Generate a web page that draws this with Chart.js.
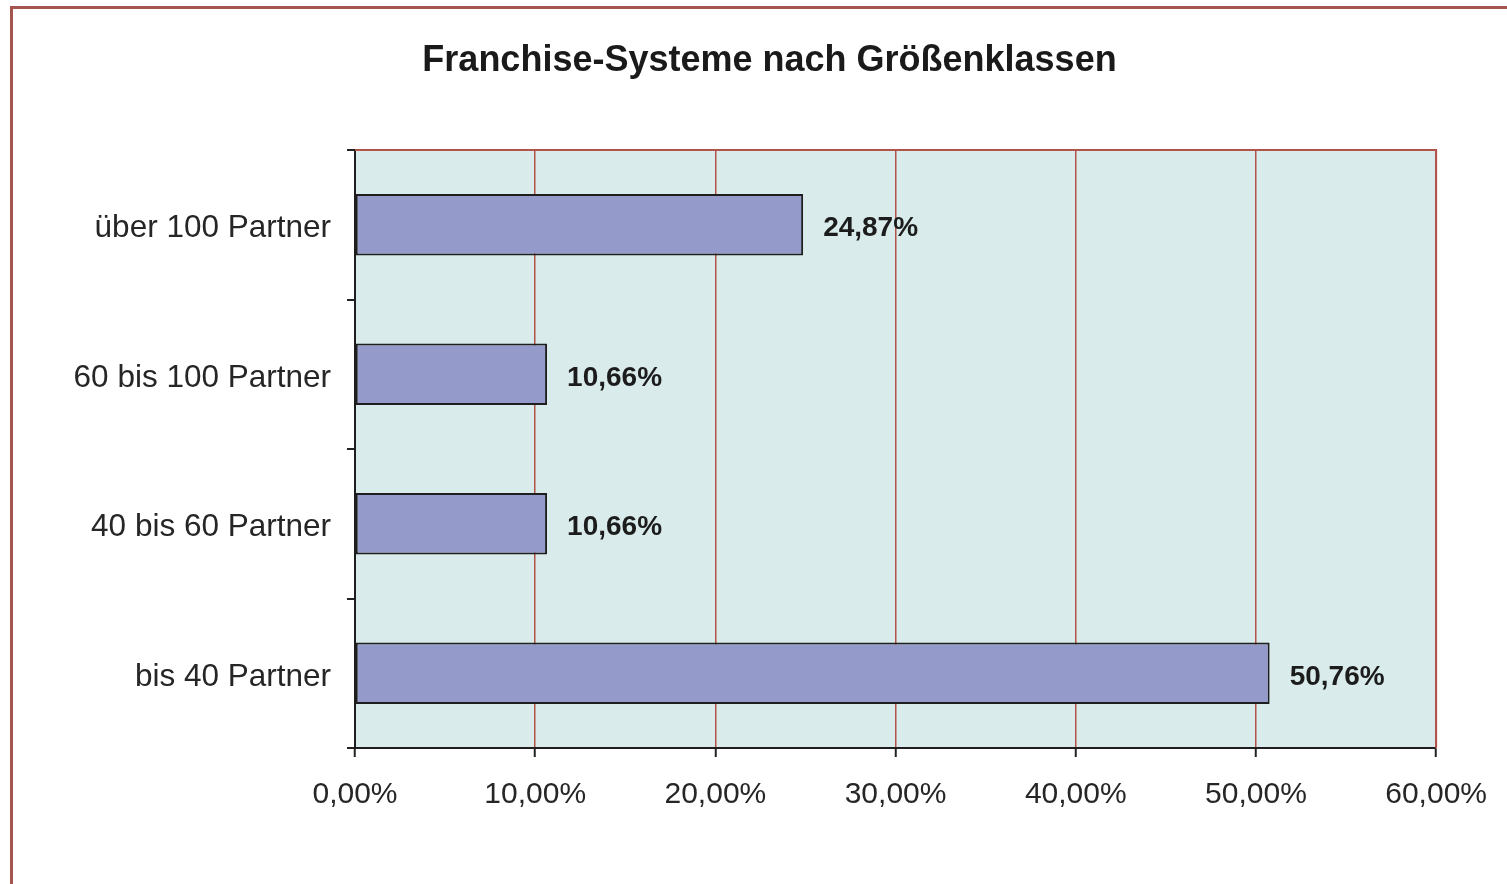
<!DOCTYPE html>
<html>
<head>
<meta charset="utf-8">
<script src="https://cdn.jsdelivr.net/npm/chart.js@4.4.1/dist/chart.umd.min.js"></script>
<style>
  html, body { margin: 0; padding: 0; background: #ffffff; }
  #wrap { position: relative; width: 1507px; height: 884px; }
</style>
</head>
<body>
<div id="wrap"><canvas id="c" width="1507" height="884"></canvas></div>
<script>
const chartTitle = 'Franchise-Systeme nach Größenklassen';
const categories = ['über 100 Partner', '60 bis 100 Partner', '40 bis 60 Partner', 'bis 40 Partner'];
const shareValues = [24.87, 10.66, 10.66, 50.76];
const xTickValues = [0, 10, 20, 30, 40, 50, 60];
const xTickLabels = ['0,00%', '10,00%', '20,00%', '30,00%', '40,00%', '50,00%', '60,00%'];

const FONT = '"Liberation Sans", Arial, Helvetica, sans-serif';
const fmt = v => v.toFixed(2).replace('.', ',') + '%';

const decorPlugin = {
  id: 'decor',
  beforeDraw(chart) {
    const ctx = chart.ctx, a = chart.chartArea;
    ctx.save();
    ctx.fillStyle = '#ffffff';
    ctx.fillRect(0, 0, chart.width, chart.height);
    // outer frame (left and top visible)
    ctx.strokeStyle = '#a4564e';
    ctx.lineWidth = 3;
    ctx.beginPath();
    ctx.moveTo(11.5, chart.height);
    ctx.lineTo(11.5, 7.5);
    ctx.lineTo(chart.width, 7.5);
    ctx.stroke();
    // plot background
    ctx.fillStyle = '#d9ebeb';
    ctx.fillRect(a.left, a.top, a.right - a.left, a.bottom - a.top);
    // title
    ctx.font = 'bold 36px ' + FONT;
    ctx.fillStyle = '#1a1a1a';
    ctx.textAlign = 'center';
    ctx.textBaseline = 'middle';
    ctx.fillText(chartTitle, 769.5, 61);
    ctx.restore();
  },
  beforeDatasetsDraw(chart) {
    const ctx = chart.ctx, a = chart.chartArea;
    ctx.save();
    ctx.strokeStyle = '#b0544a';
    ctx.lineWidth = 2;
    ctx.beginPath();
    ctx.moveTo(a.left, a.top);
    ctx.lineTo(a.right, a.top);
    ctx.lineTo(a.right, a.bottom);
    ctx.stroke();
    ctx.restore();
  },
  afterDatasetsDraw(chart) {
    const ctx = chart.ctx;
    const meta = chart.getDatasetMeta(0);
    ctx.save();
    ctx.font = 'bold 28px ' + FONT;
    ctx.fillStyle = '#1c1c1c';
    ctx.textAlign = 'left';
    ctx.textBaseline = 'middle';
    meta.data.forEach((bar, i) => {
      ctx.fillText(fmt(shareValues[i]), bar.x + 20, bar.y + 4);
    });
    ctx.restore();
  }
};

new Chart(document.getElementById('c'), {
  type: 'bar',
  data: {
    labels: categories,
    datasets: [{
      data: shareValues,
      backgroundColor: '#949aca',
      borderColor: '#1e1e1e',
      borderWidth: 2,
      borderSkipped: false,
      barPercentage: 0.41,
      categoryPercentage: 1.0
    }]
  },
  options: {
    indexAxis: 'y',
    responsive: false,
    animation: false,
    devicePixelRatio: 1,
    layout: { padding: { left: 20, right: 70, top: 150, bottom: 0 } },
    plugins: {
      legend: { display: false },
      tooltip: { enabled: false },
      title: { display: false }
    },
    scales: {
      x: {
        type: 'linear',
        min: 0,
        max: 60,
        afterBuildTicks(scale) { scale.ticks = xTickValues.map(v => ({ value: v })); },
        afterFit(scale) { scale.height = 136; },
        grid: {
          color: '#b0544a',
          lineWidth: 1.5,
          tickColor: '#222222',
          tickLength: 9,
          tickWidth: 2
        },
        border: { display: true, color: '#1e1e1e', width: 2 },
        ticks: {
          color: '#262626',
          padding: 20,
          font: { family: FONT, size: 30 },
          maxRotation: 0,
          autoSkip: false,
          callback: (v, i) => xTickLabels[i]
        }
      },
      y: {
        afterFit(scale) { scale.width = 335; },
        grid: {
          drawOnChartArea: false,
          drawTicks: true,
          tickLength: 8,
          color: '#222222',
          lineWidth: 2,
          offset: true
        },
        border: { display: true, color: '#1e1e1e', width: 2 },
        ticks: {
          color: '#262626',
          padding: 16,
          labelOffset: 4,
          font: { family: FONT, size: 31.5 }
        }
      }
    }
  },
  plugins: [decorPlugin]
});
</script>
</body>
</html>
